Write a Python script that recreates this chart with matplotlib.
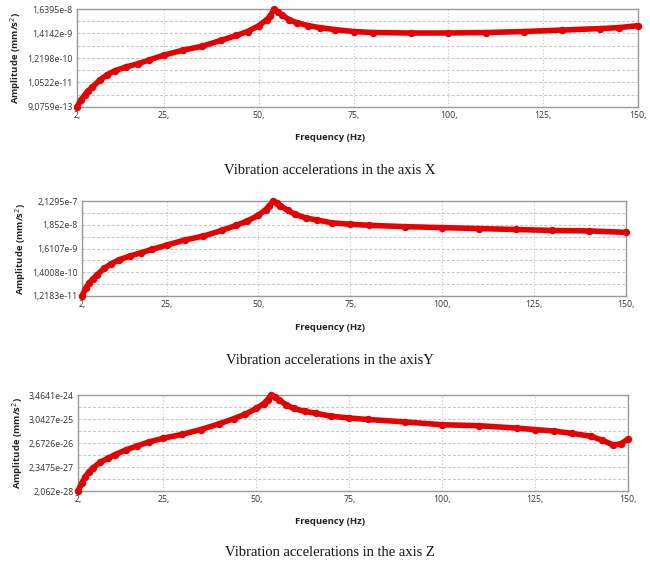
import numpy as np
import matplotlib
matplotlib.use("Agg")
import matplotlib.pyplot as plt
from matplotlib.ticker import FixedLocator, NullFormatter

# ---------------- data ----------------
freq_x = [2, 3, 4, 5, 6, 8, 10, 12, 15, 18, 21, 25, 30, 35, 40, 44, 47, 50, 52, 53, 54,
          55, 56, 58, 60, 63, 66, 70, 75, 80, 90, 100, 110, 120, 130, 140, 145, 150]
amp_x = [9.08e-13, 1.80e-12, 2.94e-12, 4.57e-12, 6.44e-12, 1.35e-11, 2.31e-11, 3.41e-11,
         5.05e-11, 6.78e-11, 1.00e-10, 1.64e-10, 2.67e-10, 3.95e-10, 7.13e-10, 1.16e-9,
         1.72e-9, 3.10e-9, 5.58e-9, 8.26e-9, 1.64e-8, 1.22e-8, 9.12e-9, 5.58e-9, 4.16e-9,
         3.10e-9, 2.55e-9, 2.09e-9, 1.72e-9, 1.56e-9, 1.49e-9, 1.49e-9, 1.56e-9, 1.72e-9,
         2.00e-9, 2.31e-9, 2.55e-9, 3.10e-9]

freq_y = [2, 3, 4, 5, 6, 8, 10, 12, 15, 18, 21, 25, 30, 35, 40, 44, 47, 50, 52, 53, 54,
          55, 56, 58, 60, 63, 66, 70, 75, 80, 90, 100, 110, 120, 130, 140, 150]
amp_y = [1.218e-11, 2.66e-11, 4.79e-11, 7.07e-11, 1.04e-10, 2.07e-10, 3.37e-10, 4.99e-10,
         7.37e-10, 1.04e-9, 1.46e-9, 2.27e-9, 3.88e-9, 5.73e-9, 1.03e-8, 1.76e-8, 2.74e-8,
         4.92e-8, 8.84e-8, 1.31e-7, 2.13e-7, 1.75e-7, 1.31e-7, 8.02e-8, 5.42e-8, 3.67e-8,
         3.02e-8, 2.25e-8, 1.95e-8, 1.76e-8, 1.52e-8, 1.38e-8, 1.25e-8, 1.14e-8, 1.03e-8,
         9.82e-9, 8.48e-9]

freq_z = [2, 3, 4, 5, 6, 8, 10, 12, 15, 18, 21, 25, 30, 35, 40, 44, 47, 50, 52, 53, 54,
          55, 56, 58, 60, 63, 66, 70, 75, 80, 90, 100, 110, 120, 125, 130, 135, 140, 143,
          146, 148, 150]
amp_z = [2.062e-28, 4.49e-28, 8.87e-28, 1.44e-27, 2.13e-27, 3.82e-27, 5.64e-27, 8.32e-27,
         1.35e-26, 2.00e-26, 2.94e-26, 4.35e-26, 6.41e-26, 1.04e-25, 1.87e-25, 3.19e-25,
         4.95e-25, 8.87e-25, 1.44e-24, 2.13e-24, 3.46e-24, 2.85e-24, 2.13e-24, 1.31e-24,
         8.87e-25, 6.62e-25, 5.45e-25, 4.07e-25, 3.36e-25, 2.90e-25, 2.27e-25, 1.70e-25,
         1.54e-25, 1.21e-25, 1.04e-25, 9.01e-26, 7.06e-26, 5.28e-26, 3.58e-26, 2.20e-26,
         2.43e-26, 3.95e-26]

x_ticks = [2, 25, 50, 75, 100, 125, 150]
x_tick_labels = ["2,", "25,", "50,", "75,", "100,", "125,", "150,"]

ytick_labels_x = ["9,0759e-13", "1,0522e-11", "1,2198e-10", "1,4142e-9", "1,6395e-8"]
ytick_labels_y = ["1,2183e-11", "1,4008e-10", "1,6107e-9", "1,852e-8", "2,1295e-7"]
ytick_labels_z = ["2,062e-28", "2,3475e-27", "2,6726e-26", "3,0427e-25", "3,4641e-24"]

captions = ["Vibration accelerations in the axis X",
            "Vibration accelerations in the axisY",
            "Vibration accelerations in the axis Z"]

# ---------------- layout ----------------
W, H = 650, 562
fig = plt.figure(figsize=(W / 100, H / 100), dpi=100)
fig.patch.set_facecolor("white")

# (left, right, top, bottom) in pixels
boxes = [(77, 638, 9, 107), (82, 626, 201, 296), (78, 628, 395, 491)]
xlabel_y = [138, 327, 522]
caption_y = [170, 360, 552]

series = [(freq_x, amp_x, ytick_labels_x),
          (freq_y, amp_y, ytick_labels_y),
          (freq_z, amp_z, ytick_labels_z)]

RED = "#e60000"
tick_font = "Open Sans"

for i, ((fr, am, ylabs), (l, r, t, b)) in enumerate(zip(series, boxes)):
    ax = fig.add_axes([l / W, 1 - b / H, (r - l) / W, (b - t) / H])
    yt = [float(s.replace(",", ".")) for s in ylabs]
    ax.set_yscale("log")
    ax.set_xlim(2, 150)
    ax.set_ylim(yt[0], yt[-1])

    ax.plot(fr, am, color=RED, lw=4.0, solid_capstyle="round", solid_joinstyle="round",
            marker="o", ms=4.3, mfc=RED, mec=RED, clip_on=False, zorder=3)

    ax.yaxis.set_major_locator(FixedLocator(yt))
    ax.set_yticklabels(ylabs)
    minors = [np.sqrt(yt[k] * yt[k + 1]) for k in range(len(yt) - 1)]
    ax.yaxis.set_minor_locator(FixedLocator(minors))
    ax.yaxis.set_minor_formatter(NullFormatter())

    ax.set_xticks(x_ticks)
    ax.set_xticklabels(x_tick_labels)

    ax.tick_params(axis="both", which="both", length=0, labelsize=6.3,
                   labelcolor="#333333", pad=3)
    for lab in ax.get_xticklabels() + ax.get_yticklabels():
        lab.set_fontfamily(tick_font)

    ax.grid(True, axis="y", which="both", color="#c4c4c4", ls=(0, (3, 2)), lw=0.7)
    ax.grid(True, axis="x", which="major", color="#c4c4c4", ls=(0, (1, 2)), lw=0.8)
    ax.set_axisbelow(True)
    for sp in ax.spines.values():
        sp.set_color("#999999")
        sp.set_linewidth(1.0)

    ax.set_ylabel("Amplitude (mm/s$^2$)", fontsize=6.8, fontweight="bold",
                  fontfamily=tick_font, color="#222222", labelpad=3)
    fig.text(330 / W, 1 - xlabel_y[i] / H, "Frequency (Hz)", ha="center", va="center",
             fontsize=6.8, fontweight="bold", fontfamily=tick_font, color="#222222")
    fig.text(330 / W, 1 - caption_y[i] / H, captions[i], ha="center", va="center",
             fontsize=10.5, fontfamily="Liberation Serif", color="#111111")

fig.savefig("out.png", dpi=100, facecolor="white")
